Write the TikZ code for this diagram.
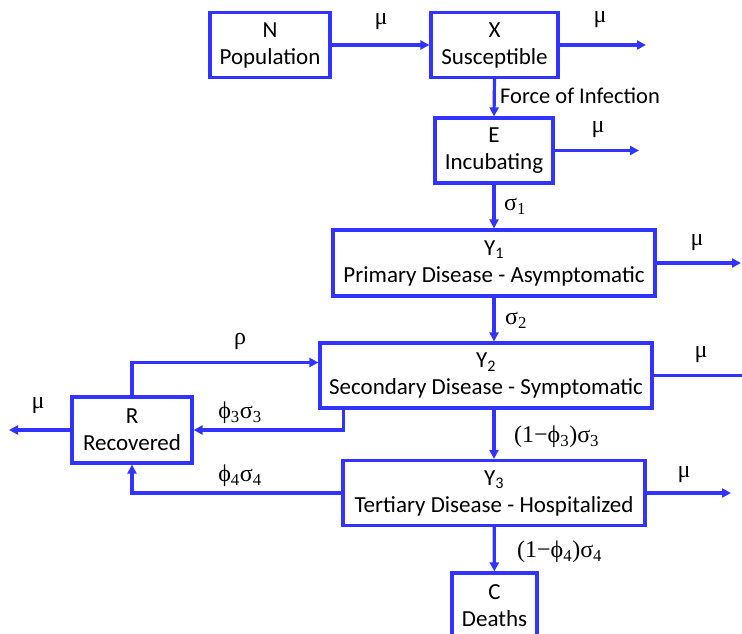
\documentclass[tikz,border=0pt]{standalone}
\usepackage{fontspec}
\setmainfont{Carlito}
\newfontfamily\gr{Liberation Serif}
\usetikzlibrary{arrows.meta}
\definecolor{bl}{RGB}{51,51,255}
\tikzset{
  box/.style={draw=bl, line width=3.2pt, align=center, inner sep=0pt, font=\fontsize{23}{27}\selectfont},
  arr/.style={draw=bl, line width=3.2pt, -{Triangle[length=9pt,width=9pt]}},
  lbl/.style={font=\fontsize{24}{28}\selectfont\gr, inner sep=0pt},
  txt/.style={font=\fontsize{22.5}{26}\selectfont, inner sep=0pt}
}
\begin{document}
\begin{tikzpicture}[x=1pt,y=-1pt]
\useasboundingbox (0,0) rectangle (742,634);
\clip (0,0) rectangle (742,634);
\node[box, minimum width=120pt, minimum height=65pt] (N) at (270,45) {N\\Population};
\node[box, minimum width=127pt, minimum height=65pt] (X) at (494.5,45) {X\\Susceptible};
\node[box, minimum width=118pt, minimum height=65pt] (E) at (494,150.5) {E\\Incubating};
\node[box, minimum width=322pt, minimum height=66pt] (Y1) at (494,263) {Y\textsubscript{1}\\Primary Disease - Asymptomatic};
\node[box, minimum width=332pt, minimum height=65pt] (Y2) at (486,375.5) {Y\textsubscript{2}\\Secondary Disease - Symptomatic};
\node[box, minimum width=120pt, minimum height=66pt] (R) at (132,430) {R\\Recovered};
\node[box, minimum width=302pt, minimum height=65pt] (Y3) at (494,493) {Y\textsubscript{3}\\Tertiary Disease - Hospitalized};
\node[box, minimum width=85pt, minimum height=66pt] (C) at (494.5,606) {C\\Deaths};

\coordinate (xo) at (646,45);
\coordinate (eo) at (639,150.5);
\coordinate (y1o) at (741,263);
\coordinate (y2o) at (760,375.5);
\coordinate (y3o) at (731,493);
\coordinate (ro) at (9,430);

\draw[arr] (N) -- (X);
\draw[arr] (X) -- (xo);
\draw[arr] (X.south) -- (E.north);
\draw[arr] (E) -- (eo);
\draw[arr] (E) -- (Y1);
\draw[arr] (Y1) -- (y1o);
\draw[arr] (Y1.south) -- (Y1.south |- Y2.north);
\draw[arr] (Y2) -- (y2o);
\draw[arr] (Y3.north |- Y2.south) -- (Y3.north);
\draw[arr] (Y3) -- (y3o);
\draw[arr] (Y3) -- (C);
\draw[arr] (R) -- (ro);
\draw[arr] (R.north) |- ([yshift=13pt]Y2.west);
\draw[arr] ([xshift=25pt]Y2.south west) |- (R.east);
\draw[arr] (Y3.west) -| (R.south);

\node[lbl] (l1) at (381,22) {μ};
\node[lbl] (l2) at (600,20) {μ};
\node[txt, anchor=west] (l3) at (500,96) {Force of Infection};
\node[lbl] (l4) at (598,130) {μ};
\node[lbl, anchor=west] (l5) at (504,206) {σ\textsubscript{1}};
\node[lbl] (l6) at (697,243) {μ};
\node[lbl, anchor=west] (l7) at (505,320) {σ\textsubscript{2}};
\node[lbl] (l8) at (701,355) {μ};
\node[lbl] (l9) at (240,341) {ρ};
\node[lbl] (l10) at (240,413) {ϕ\textsubscript{3}σ\textsubscript{3}};
\node[lbl] (l11) at (38,406) {μ};
\node[lbl, anchor=west] (l12) at (514,437) {(1−ϕ\textsubscript{3})σ\textsubscript{3}};
\node[lbl] (l13) at (240,476) {ϕ\textsubscript{4}σ\textsubscript{4}};
\node[lbl] (l14) at (684,475) {μ};
\node[lbl, anchor=west] (l15) at (517,552) {(1−ϕ\textsubscript{4})σ\textsubscript{4}};
\end{tikzpicture}
\end{document}
